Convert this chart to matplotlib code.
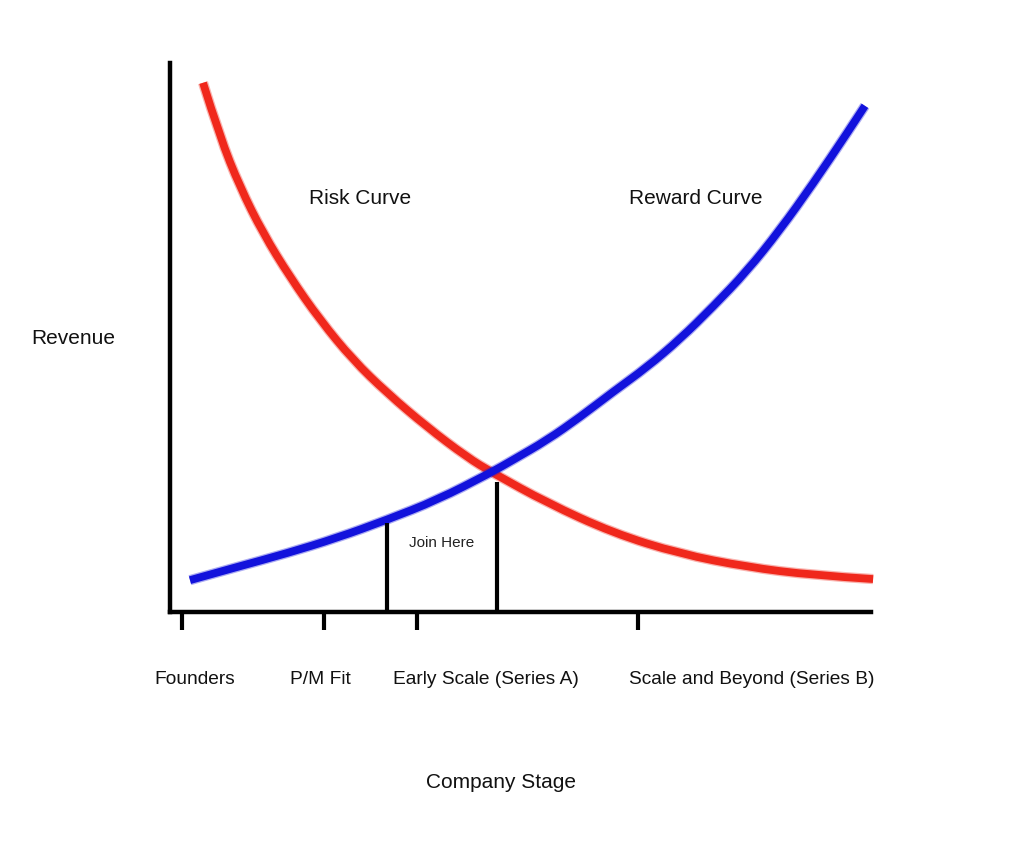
import matplotlib
matplotlib.use("Agg")
import matplotlib.pyplot as plt
import matplotlib.transforms as mtransforms
from matplotlib.path import Path
from matplotlib.patches import PathPatch

plt.rcParams['font.family'] = ['Liberation Sans', 'DejaVu Sans']

# Risk curve (declining)
risk_x = [0.471, 0.713, 0.999, 1.327, 1.712, 2.140, 2.611, 3.096, 3.666, 4.237,
          4.608, 5.378, 6.320, 7.275, 8.231, 9.173, 10.03]
risk_y = [9.64, 8.65, 7.74, 6.90, 6.10, 5.32, 4.59, 3.99, 3.37, 2.82,
          2.53, 1.99, 1.44, 1.06, 0.82, 0.67, 0.60]

# Reward curve (rising)
reward_x = [0.285, 0.956, 1.669, 2.382, 3.096, 3.809, 4.565, 4.893, 5.378, 5.849,
            6.320, 6.805, 7.275, 7.746, 8.231, 8.702, 9.173, 9.658, 9.914]
reward_y = [0.58, 0.82, 1.07, 1.35, 1.68, 2.04, 2.53, 2.77, 3.13, 3.55,
            4.01, 4.46, 4.97, 5.56, 6.21, 6.96, 7.80, 8.72, 9.22]

# "Join Here" window markers
join_x = [3.10, 4.66]
join_top = [1.62, 2.37]

# Stage ticks and labels
tick_pos = [0.17, 2.20, 3.52, 6.68]
stage_labels = ["Founders", "P/M Fit", "Early Scale (Series A)", "Scale and Beyond (Series B)"]
stage_label_x = [0.36, 2.15, 4.51, 8.30]


def smooth_path(xs, ys):
    """Quadratic B-spline path through the read points (drawing only)."""
    pts = list(zip(xs, ys))
    n = len(pts)
    verts = [pts[0]]
    codes = [Path.MOVETO]
    for i in range(1, n - 1):
        if i < n - 2:
            end = ((pts[i][0] + pts[i + 1][0]) / 2, (pts[i][1] + pts[i + 1][1]) / 2)
        else:
            end = pts[n - 1]
        verts += [pts[i], end]
        codes += [Path.CURVE3, Path.CURVE3]
    return Path(verts, codes)


W, H = 1024, 842
fig = plt.figure(figsize=(W / 100, H / 100), dpi=100)
ax = fig.add_axes([170 / W, (H - 612) / H, 701 / W, 549 / H])
ax.set_xlim(0, 10)
ax.set_ylim(0, 10)

for s in ['top', 'right']:
    ax.spines[s].set_visible(False)
for s in ['left', 'bottom']:
    ax.spines[s].set_linewidth(3.2)
    ax.spines[s].set_color('black')

ax.set_yticks([])
ax.set_xticks(tick_pos)
ax.set_xticklabels([])
ax.tick_params(axis='x', direction='out', length=13, width=3, color='black')

for xs, ys, col in [(risk_x, risk_y, '#f0281c'), (reward_x, reward_y, '#1212dc')]:
    p = smooth_path(xs, ys)
    ax.add_patch(PathPatch(p, fill=False, edgecolor=col, lw=7.4, alpha=0.35,
                           capstyle='butt', joinstyle='round', clip_on=False))
    ax.add_patch(PathPatch(p, fill=False, edgecolor=col, lw=5.6,
                           capstyle='butt', joinstyle='round', clip_on=False))

ax.vlines(join_x, 0, join_top, color='black', lw=3)

trans = mtransforms.blended_transform_factory(ax.transData, fig.transFigure)
for lx, lab in zip(stage_label_x, stage_labels):
    ax.text(lx, 1 - 679 / H, lab, transform=trans, ha='center', va='center',
            fontsize=13.8, color='#111111')

ax.text(3.87, 1.25, "Join Here", ha='center', va='center', fontsize=11, color='#222222')
fig.text(360 / W, 1 - 199 / H, "Risk Curve", ha='center', va='center', fontsize=15, color='#111111')
fig.text(696 / W, 1 - 199 / H, "Reward Curve", ha='center', va='center', fontsize=15, color='#111111')
fig.text(73 / W, 1 - 338 / H, "Revenue", ha='center', va='center', fontsize=15, color='#111111')
fig.text(501 / W, 1 - 782 / H, "Company Stage", ha='center', va='center', fontsize=15, color='#111111')

fig.savefig("out.png", dpi=100, facecolor='white')
